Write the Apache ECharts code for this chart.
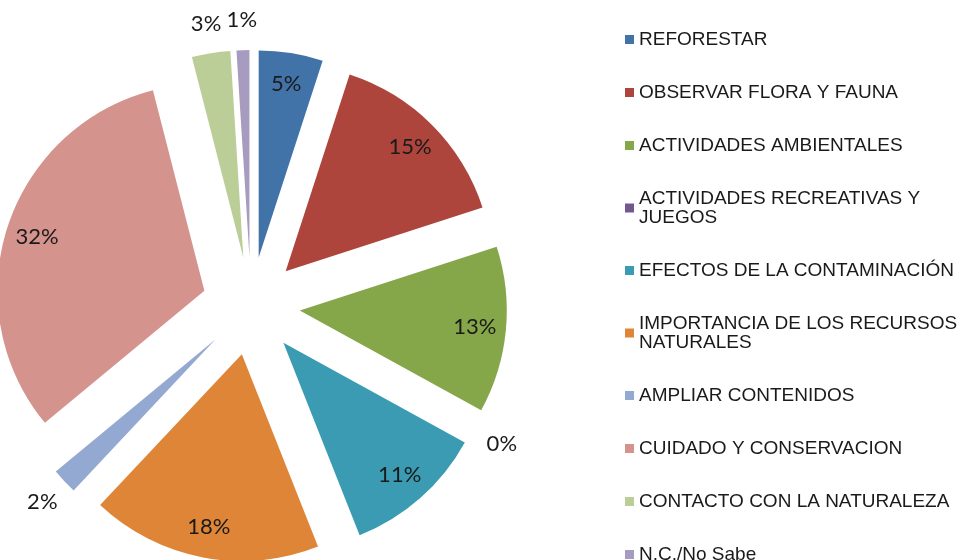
<!DOCTYPE html>
<html>
<head>
<meta charset="utf-8">
<script src="https://cdn.jsdelivr.net/npm/echarts@6/dist/echarts.min.js"></script>
<style>
  html, body { margin: 0; padding: 0; background: #fff; }
  #chart { width: 961px; height: 560px; }
</style>
</head>
<body>
<div id="chart"></div>
<script>
const categories = [
  'REFORESTAR',
  'OBSERVAR FLORA Y FAUNA',
  'ACTIVIDADES AMBIENTALES',
  'ACTIVIDADES RECREATIVAS Y JUEGOS',
  'EFECTOS DE LA CONTAMINACIÓN',
  'IMPORTANCIA DE LOS RECURSOS NATURALES',
  'AMPLIAR CONTENIDOS',
  'CUIDADO Y CONSERVACION',
  'CONTACTO CON LA NATURALEZA',
  'N.C./No Sabe'
]
const percents = [5, 15, 13, 0, 11, 18, 2, 32, 3, 1]
const colors = ['#4173a9', '#ad453d', '#86a64a', '#71588f', '#3a9bb2',
  '#de8537', '#93a9d1', '#d5938e', '#bbce97', '#a89bc0']

const center = [251, 306]
const R = 207
const explode = 49
const labelFont = { fontFamily: 'Lato', fontSize: 22, color: '#1a1a1a' }

// slices smaller than this get their label outside the slice
const outsideLimit = 4

// wrap legend names like excel does (max chars per line)
function wrap (name, max) {
  const words = name.split(' ')
  const lines = []
  let line = ''
  words.forEach(w => {
    const next = line ? line + ' ' + w : w
    if (next.length > max && line) {
      lines.push(line)
      line = w
    } else {
      line = next
    }
  })
  lines.push(line)
  return lines.join('\n')
}

const chart = echarts.init(document.getElementById('chart'))

function makeData (labelFor) {
  return categories.map((name, i) => ({
    name: name,
    value: percents[i],
    selected: true,
    label: { show: labelFor(percents[i]) }
  }))
}

const common = {
  type: 'pie',
  center: center,
  startAngle: 90,
  clockwise: true,
  selectedMode: 'multiple',
  selectedOffset: explode,
  avoidLabelOverlap: false,
  labelLayout: { hideOverlap: false },
  animation: false,
  labelLine: { show: false },
  emphasis: { disabled: true }
}

chart.setOption({
  backgroundColor: '#fff',
  color: colors,
  legend: {
    orient: 'vertical',
    left: 625,
    top: 30,
    height: 800,
    padding: 0,
    itemWidth: 9,
    itemHeight: 9,
    itemGap: 34,
    icon: 'rect',
    selectedMode: false,
    data: categories,
    formatter: name => wrap(name, 27),
    textStyle: {
      fontFamily: 'Liberation Sans',
      fontSize: 19,
      lineHeight: 19,
      height: 19,
      color: '#1a1a1a'
    }
  },
  series: [
    Object.assign({}, common, {
      name: 'pie',
      radius: R,
      label: { show: false },
      itemStyle: { borderWidth: 0 },
      data: categories.map((name, i) => ({ name: name, value: percents[i], selected: true }))
    }),
    // labels inside the slices, near the rim
    Object.assign({}, common, {
      name: 'labels-in',
      radius: [R * 0.67, R],
      silent: true,
      itemStyle: { color: 'rgba(0,0,0,0)' },
      label: Object.assign({ position: 'inside', formatter: '{c}%' }, labelFont),
      data: makeData(v => v >= outsideLimit)
    }),
    // labels just outside the small slices (pulled back by half a label width to centre them)
    Object.assign({}, common, {
      name: 'labels-out',
      radius: R,
      silent: true,
      itemStyle: { color: 'rgba(0,0,0,0)' },
      label: Object.assign({ position: 'outside', formatter: '{c}%', distanceToLabelLine: -15 }, labelFont),
      labelLine: { show: false, length: 30, length2: 0 },
      data: makeData(v => v < outsideLimit)
    })
  ]
})
</script>
</body>
</html>
